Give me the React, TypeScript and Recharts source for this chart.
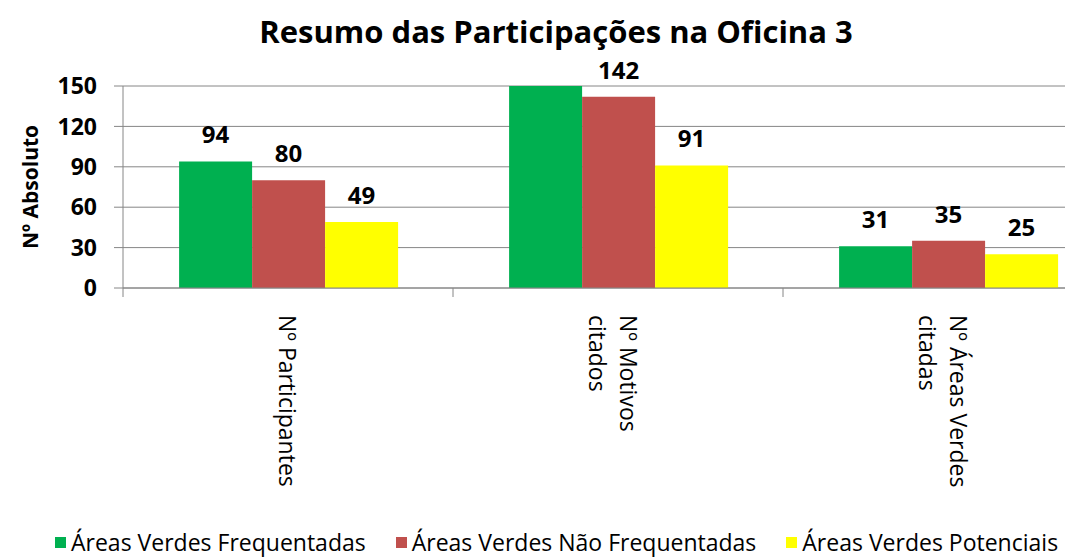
import { Bar, BarChart, CartesianGrid, LabelList, XAxis, YAxis } from "recharts"

const categories = ["Nº Participantes", "Nº Motivos citados", "Nº Áreas Verdes citadas"]
const categoryLines = [["Nº Participantes"], ["Nº Motivos", "citados"], ["Nº Áreas Verdes", "citadas"]]
const frequentadas = [94, 160, 31]
const naoFrequentadas = [80, 142, 35]
const potenciais = [49, 91, 25]
const yTicks = [0, 30, 60, 90, 120, 150]

const series = [
  { key: "frequentadas", name: "Áreas Verdes Frequentadas", color: "#00B050" },
  { key: "naoFrequentadas", name: "Áreas Verdes Não Frequentadas", color: "#C0504D" },
  { key: "potenciais", name: "Áreas Verdes Potenciais", color: "#FFFF00" },
]

const data = categories.map((category, i) => ({
  category,
  frequentadas: frequentadas[i],
  naoFrequentadas: naoFrequentadas[i],
  potenciais: potenciais[i],
}))

const FONT = "'Open Sans', sans-serif"
const AXIS_GRAY = "#868686"
const CHART_W = 1126
const CHART_H = 558
const MARGIN = { top: 86, right: 13, left: 63, bottom: 40 }
const Y_AXIS_W = 60
const X_AXIS_H = 230
const BAND = (CHART_W - MARGIN.left - MARGIN.right - Y_AXIS_W) / categories.length
const Y_MAX = 150

function CategoryTick({ x, y, index }: any) {
  const lines = categoryLines[index] || []
  const lh = 31
  const off = ((lines.length - 1) * lh) / 2
  const shift = (lines.length - 1) * 5
  return (
    <g transform={`translate(${x},${y})`}>
      <line x1={-BAND / 2} x2={-BAND / 2} y1={0} y2={9} stroke={AXIS_GRAY} />
      {index === categories.length - 1 && <line x1={BAND / 2} x2={BAND / 2} y1={0} y2={9} stroke={AXIS_GRAY} />}
      <text transform="rotate(90)" fontFamily={FONT} fontSize={23} fill="#000">
        {lines.map((line, i) => (
          <tspan key={i} x={27} y={-off + i * lh + shift} dominantBaseline="central">
            {line}
          </tspan>
        ))}
      </text>
    </g>
  )
}

function ValueLabel({ x, y, width, value }: any) {
  if (value > Y_MAX) return null
  return (
    <text x={x + width / 2} y={y - 18} textAnchor="middle" fontFamily={FONT} fontSize={24} fontWeight={700} fill="#000">
      {value}
    </text>
  )
}

function YTitle({ viewBox }: any) {
  const cx = viewBox.x - 33
  const cy = viewBox.y + viewBox.height / 2
  return (
    <text
      x={cx}
      y={cy}
      transform={`rotate(-90, ${cx}, ${cy})`}
      textAnchor="middle"
      dominantBaseline="central"
      fontFamily={FONT}
      fontSize={21}
      fontWeight={700}
      fill="#000"
    >
      Nº Absoluto
    </text>
  )
}

export default function App() {
  return (
    <div style={{ position: "absolute", left: 0, top: 0, width: 1065, height: 558, overflow: "hidden", background: "#fff" }}>
      <div
        style={{
          position: "absolute",
          left: 0,
          top: 16,
          width: 1112,
          textAlign: "center",
          fontFamily: FONT,
          fontWeight: 700,
          fontSize: 31,
          lineHeight: "31px",
          color: "#000",
          whiteSpace: "nowrap",
        }}
      >
        Resumo das Participações na Oficina 3
      </div>
      <BarChart width={CHART_W} height={CHART_H} data={data} margin={MARGIN} barGap={0} barCategoryGap="17%">
        <CartesianGrid vertical={false} stroke={AXIS_GRAY} />
        <XAxis
          dataKey="category"
          height={X_AXIS_H}
          interval={0}
          tickLine={false}
          tickSize={0}
          tickMargin={0}
          axisLine={{ stroke: AXIS_GRAY }}
          tick={<CategoryTick />}
        />
        <YAxis
          width={Y_AXIS_W}
          domain={[0, Y_MAX]}
          ticks={yTicks}
          allowDataOverflow
          tickSize={9}
          tickMargin={17}
          tickLine={{ stroke: AXIS_GRAY }}
          axisLine={{ stroke: AXIS_GRAY }}
          tick={{ fill: "#000", fontSize: 23, fontWeight: 700, fontFamily: FONT }}
          label={<YTitle />}
        />
        {series.map((s) => (
          <Bar key={s.key} dataKey={s.key} name={s.name} fill={s.color} isAnimationActive={false}>
            <LabelList dataKey={s.key} content={<ValueLabel />} />
          </Bar>
        ))}
      </BarChart>
      <div
        style={{
          position: "absolute",
          left: 55,
          top: 531,
          display: "flex",
          alignItems: "center",
          fontFamily: FONT,
          fontSize: 23,
          lineHeight: "23px",
          color: "#000",
          whiteSpace: "nowrap",
        }}
      >
        {series.map((s) => (
          <div key={s.key} style={{ display: "flex", alignItems: "center", marginRight: 30 }}>
            <span style={{ display: "inline-block", width: 11, height: 11, background: s.color, marginRight: 5 }} />
            <span>{s.name}</span>
          </div>
        ))}
      </div>
    </div>
  )
}
